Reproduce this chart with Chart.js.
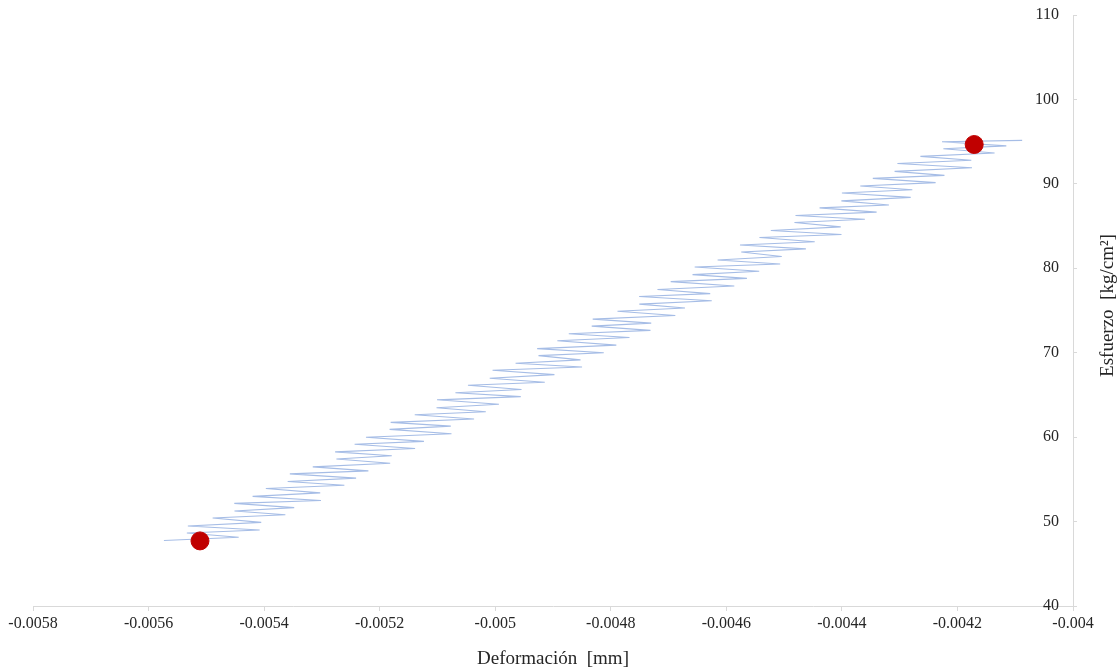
<!DOCTYPE html>
<html>
<head>
<meta charset="utf-8">
<script src="https://cdn.jsdelivr.net/npm/chart.js@4.4.1/dist/chart.umd.min.js"></script>
<style>
  body { margin: 0; background: #fff; }
  canvas { display: block; }
</style>
</head>
<body>
<canvas id="chart" width="1118" height="670"></canvas>
<script>
// deformation [mm] and stress [kg/cm2] of the loading cycles
const deformacion = [
  -0.0055734, -0.0054440, -0.0055337, -0.0054077, -0.0055320, -0.0054050, -0.0054891, -0.0053632, -0.0054513, -0.0053479,
  -0.0054516, -0.0053016, -0.0054199, -0.0053029, -0.0053970, -0.0052611, -0.0053592, -0.0052408, -0.0053555, -0.0052195,
  -0.0053158, -0.0051818, -0.0052749, -0.0051790, -0.0052771, -0.0051387, -0.0052434, -0.0051234, -0.0052237, -0.0050757,
  -0.0051828, -0.0050769, -0.0051810, -0.0050366, -0.0051393, -0.0050163, -0.0051016, -0.0049936, -0.0051007, -0.0049558,
  -0.0050689, -0.0049545, -0.0050472, -0.0049142, -0.0050095, -0.0048975, -0.0050046, -0.0048497, -0.0049648, -0.0048524,
  -0.0049251, -0.0048121, -0.0049274, -0.0047904, -0.0048925, -0.0047676, -0.0048727, -0.0047313, -0.0048330, -0.0047300,
  -0.0048313, -0.0046883, -0.0047884, -0.0046715, -0.0047506, -0.0046252, -0.0047509, -0.0046279, -0.0047192, -0.0045862,
  -0.0046963, -0.0045644, -0.0046585, -0.0045431, -0.0046548, -0.0045068, -0.0046151, -0.0045041, -0.0045742, -0.0044623,
  -0.0045764, -0.0044470, -0.0045427, -0.0044007, -0.0045230, -0.0044020, -0.0044821, -0.0043602, -0.0044803, -0.0043399,
  -0.0044386, -0.0043186, -0.0044009, -0.0042809, -0.0044000, -0.0042781, -0.0043682, -0.0042378, -0.0043465, -0.0042225,
  -0.0043088, -0.0041748, -0.0043039, -0.0041760, -0.0042641, -0.0041357, -0.0042244, -0.0041154, -0.0042267, -0.0040880
];
const esfuerzo = [
  47.75, 48.15, 48.65, 49.00, 49.48, 49.90, 50.42, 50.80, 51.25, 51.65,
  52.15, 52.50, 52.98, 53.40, 53.92, 54.30, 54.75, 55.15, 55.65, 56.00,
  56.48, 56.90, 57.42, 57.80, 58.25, 58.65, 59.15, 59.50, 59.98, 60.40,
  60.92, 61.30, 61.75, 62.15, 62.65, 63.00, 63.48, 63.90, 64.42, 64.80,
  65.25, 65.65, 66.15, 66.50, 66.98, 67.40, 67.92, 68.30, 68.75, 69.15,
  69.65, 70.00, 70.48, 70.90, 71.42, 71.80, 72.25, 72.65, 73.15, 73.50,
  73.98, 74.40, 74.92, 75.30, 75.75, 76.15, 76.65, 77.00, 77.48, 77.90,
  78.42, 78.80, 79.25, 79.65, 80.15, 80.50, 80.98, 81.40, 81.92, 82.30,
  82.75, 83.15, 83.65, 84.00, 84.48, 84.90, 85.42, 85.80, 86.25, 86.65,
  87.15, 87.50, 87.98, 88.40, 88.92, 89.30, 89.75, 90.15, 90.65, 91.00,
  91.48, 91.90, 92.42, 92.80, 93.25, 93.65, 94.15, 94.50, 94.98, 95.15
];

// the two marked points (start / end)
const puntosX = [-0.005511, -0.004171];
const puntosY = [47.71, 94.66];

const xTicks = [-0.0058, -0.0056, -0.0054, -0.0052, -0.005, -0.0048, -0.0046, -0.0044, -0.0042, -0.004];
const yTicks = [40, 50, 60, 70, 80, 90, 100, 110];

const serif = '"Liberation Serif", "Times New Roman", serif';
const axisColor = '#d9d9d9';
const textColor = '#262626';

const curva = deformacion.map((x, i) => ({ x: x, y: esfuerzo[i] }));
const puntos = puntosX.map((x, i) => ({ x: x, y: puntosY[i] }));

// y axis title sits right of the axis and reads bottom-to-top
const yTitlePlugin = {
  id: 'yTitle',
  afterDraw(chart) {
    const ctx = chart.ctx;
    const area = chart.chartArea;
    ctx.save();
    ctx.translate(1108, (area.top + area.bottom) / 2 - 5);
    ctx.rotate(-Math.PI / 2);
    ctx.font = '19px ' + serif;
    ctx.fillStyle = textColor;
    ctx.textAlign = 'center';
    ctx.textBaseline = 'middle';
    ctx.fillText('Esfuerzo  [kg/cm²]', 0, 0);
    ctx.restore();
  }
};

new Chart(document.getElementById('chart'), {
  type: 'scatter',
  data: {
    datasets: [
      {
        data: puntos,
        pointRadius: 9,
        pointHoverRadius: 9,
        backgroundColor: '#c00000',
        borderColor: '#c00000',
        showLine: false
      },
      {
        data: curva,
        showLine: true,
        borderColor: '#a6bde6',
        borderWidth: 1.1,
        pointRadius: 0,
        tension: 0
      }
    ]
  },
  options: {
    responsive: false,
    animation: false,
    layout: { padding: { left: 33, top: 15, right: 0, bottom: 0 } },
    plugins: {
      legend: { display: false },
      tooltip: { enabled: false }
    },
    scales: {
      x: {
        type: 'linear',
        position: 'bottom',
        min: -0.0058,
        max: -0.004,
        afterBuildTicks: (scale) => { scale.ticks = xTicks.map((v) => ({ value: v })); },
        grid: { drawOnChartArea: false, drawTicks: true, tickLength: 5, color: axisColor },
        border: { color: axisColor },
        ticks: {
          font: { family: serif, size: 16 },
          color: textColor,
          padding: 3,
          maxRotation: 0,
          callback: (v) => String(+v.toFixed(4))
        },
        title: {
          display: true,
          text: 'Deformación  [mm]',
          font: { family: serif, size: 19 },
          color: textColor,
          padding: { top: 11, bottom: 0 }
        }
      },
      y: {
        type: 'linear',
        position: 'right',
        min: 40,
        max: 110,
        afterBuildTicks: (scale) => { scale.ticks = yTicks.map((v) => ({ value: v })); },
        afterFit: (scale) => { scale.width = 45; },
        grid: { drawOnChartArea: false, drawTicks: true, tickLength: 4, color: axisColor },
        border: { color: axisColor },
        ticks: {
          mirror: true,
          padding: -14,
          font: { family: serif, size: 16 },
          color: textColor
        }
      }
    }
  },
  plugins: [yTitlePlugin]
});
</script>
</body>
</html>
